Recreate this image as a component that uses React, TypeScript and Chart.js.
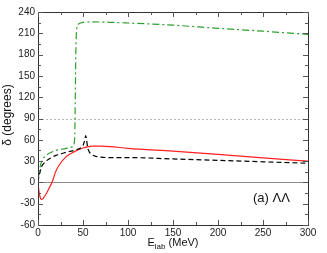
import React, { useEffect, useRef } from "react";
import { Chart, registerables } from "chart.js";

Chart.register(...registerables);

const xTicks = [0, 50, 100, 150, 200, 250, 300];
const yTicks = [-60, -30, 0, 30, 60, 90, 120, 150, 180, 210, 240];

const redE = [0, 1, 2, 3, 3.8, 5, 6, 8, 10, 12, 14, 15.5, 17, 19, 21, 25, 30, 35, 40, 45, 50, 55, 60, 70, 80, 100, 150, 200, 250, 300];
const redD = [0, -12, -19, -23, -24, -23.5, -22, -18.5, -14, -9, -4, 0, 5, 13, 19, 27, 34.5, 39.5, 43, 46, 48.5, 50, 51, 51, 50.5, 48, 44, 39.5, 34.5, 30];

const greenE = [0, 1, 2, 4, 6, 10, 15, 20, 25, 30, 35, 38, 40, 41, 41.5, 42, 43, 45, 50, 60, 80, 100, 150, 200, 250, 300];
const greenD = [0, 12, 20, 29, 34, 39, 42.5, 45, 46.5, 47.5, 49, 50, 54, 75, 125, 180, 216, 223, 225.5, 226, 225.5, 224.5, 221.5, 217, 213, 208.5];

const blackE = [0, 1, 2, 4, 6, 10, 15, 20, 25, 30, 35, 40, 45, 48, 50, 52, 53, 54, 55, 57, 60, 65, 70, 80, 100, 150, 200, 250, 300];
const blackD = [0, 8, 14, 22, 26, 31, 35, 38, 40, 42, 43.5, 45, 47, 49, 52, 60, 66, 60, 50, 43, 39, 36.5, 35.5, 35, 35, 33, 31, 29, 27];

const FONT = '"Liberation Sans", Arial, Helvetica, sans-serif';

const pts = (xs: number[], ys: number[]) => xs.map((x, i) => ({ x, y: ys[i] }));

const framePlugin = {
  id: "framePlugin",
  beforeDatasetsDraw(chart: any) {
    const { ctx, chartArea: a, scales } = chart;
    const y0 = scales.y.getPixelForValue(0);
    const y90 = scales.y.getPixelForValue(90);
    ctx.save();
    ctx.lineWidth = 1;
    ctx.strokeStyle = "#8a8a8a";
    ctx.beginPath();
    ctx.moveTo(a.left, Math.round(y0) + 0.5);
    ctx.lineTo(a.right, Math.round(y0) + 0.5);
    ctx.stroke();
    ctx.strokeStyle = "#b8b8b8";
    ctx.setLineDash([2, 2]);
    ctx.beginPath();
    ctx.moveTo(a.left, Math.round(y90) + 0.5);
    ctx.lineTo(a.right, Math.round(y90) + 0.5);
    ctx.stroke();
    ctx.restore();
  },
  afterDraw(chart: any) {
    const { ctx, chartArea: a, scales } = chart;
    ctx.save();
    ctx.strokeStyle = "#333";
    ctx.lineWidth = 1;
    ctx.strokeRect(Math.round(a.left) + 0.5, Math.round(a.top) + 0.5, Math.round(a.right - a.left), Math.round(a.bottom - a.top));
    ctx.strokeStyle = "#555";
    ctx.beginPath();
    for (let v = 0; v <= 300; v += 25) {
      const x = Math.round(scales.x.getPixelForValue(v)) + 0.5;
      const len = v % 50 === 0 ? 5 : 3;
      ctx.moveTo(x, a.bottom);
      ctx.lineTo(x, a.bottom - len);
      ctx.moveTo(x, a.top);
      ctx.lineTo(x, a.top + len);
    }
    for (let v = -60; v <= 240; v += 15) {
      const y = Math.round(scales.y.getPixelForValue(v)) + 0.5;
      const len = v % 30 === 0 ? 5 : 3;
      ctx.moveTo(a.left, y);
      ctx.lineTo(a.left + len, y);
      ctx.moveTo(a.right, y);
      ctx.lineTo(a.right - len, y);
    }
    ctx.stroke();

    // tick labels
    ctx.fillStyle = "#222";
    ctx.font = `10px ${FONT}`;
    ctx.textAlign = "center";
    ctx.textBaseline = "middle";
    xTicks.forEach((v) => {
      ctx.fillText(String(v), scales.x.getPixelForValue(v), a.bottom + 8);
    });
    ctx.textAlign = "right";
    yTicks.forEach((v) => {
      ctx.fillText(String(v), a.left - 3, scales.y.getPixelForValue(v));
    });

    ctx.fillStyle = "#111";
    ctx.font = `13px ${FONT}`;
    ctx.textBaseline = "middle";
    ctx.textAlign = "left";
    ctx.fillText("(a) ΛΛ", 253, 198);

    // y title
    ctx.save();
    ctx.translate(8, 115);
    ctx.rotate(-Math.PI / 2);
    ctx.textAlign = "center";
    ctx.textBaseline = "middle";
    ctx.font = `12px ${FONT}`;
    ctx.fillText("δ (degrees)", 0, 0);
    ctx.restore();

    // x title with subscript
    const cx = (a.left + a.right) / 2;
    ctx.font = `11px ${FONT}`;
    const wE = ctx.measureText("E").width;
    ctx.font = `8px ${FONT}`;
    const wSub = ctx.measureText("lab").width;
    ctx.font = `11px ${FONT}`;
    const wRest = ctx.measureText(" (MeV)").width;
    let x = cx - (wE + wSub + wRest) / 2;
    const by = 246;
    ctx.textAlign = "left";
    ctx.textBaseline = "alphabetic";
    ctx.fillText("E", x, by);
    x += wE;
    ctx.font = `8px ${FONT}`;
    ctx.fillText("lab", x, by + 3);
    x += wSub;
    ctx.font = `11px ${FONT}`;
    ctx.fillText(" (MeV)", x, by);
    ctx.restore();
  },
};

export default function App() {
  const ref = useRef<HTMLCanvasElement | null>(null);
  useEffect(() => {
    if (!ref.current) return;
    const common = { pointRadius: 0, borderWidth: 1.2, cubicInterpolationMode: "monotone", fill: false };
    const chart = new Chart(ref.current, {
      type: "line",
      data: {
        datasets: [
          { ...common, data: pts(greenE, greenD), borderColor: "#2ca02c", borderDash: [7, 3, 2, 3] },
          { ...common, data: pts(blackE, blackD), borderColor: "#000", borderDash: [5, 3] },
          { ...common, data: pts(redE, redD), borderColor: "#ff2020" },
        ],
      },
      options: {
        responsive: false,
        animation: false,
        devicePixelRatio: 1,
        layout: { padding: { top: 12, right: 19, left: 0, bottom: 0 } },
        plugins: { legend: { display: false }, tooltip: { enabled: false } },
        scales: {
          x: {
            type: "linear",
            min: 0,
            max: 300,
            grid: { display: false },
            border: { display: false },
            ticks: { display: false },
            afterFit: (s: any) => {
              s.height = 28;
            },
          },
          y: {
            type: "linear",
            min: -60,
            max: 240,
            grid: { display: false },
            border: { display: false },
            ticks: { display: false },
            afterFit: (s: any) => {
              s.width = 38;
            },
          },
        },
      },
      plugins: [framePlugin],
    } as any);
    return () => chart.destroy();
  }, []);
  return (
    <div style={{ position: "fixed", left: 0, top: 0, width: 327, height: 253, background: "#fff" }}>
      <canvas ref={ref} width={327} height={253} style={{ display: "block" }} />
    </div>
  );
}
